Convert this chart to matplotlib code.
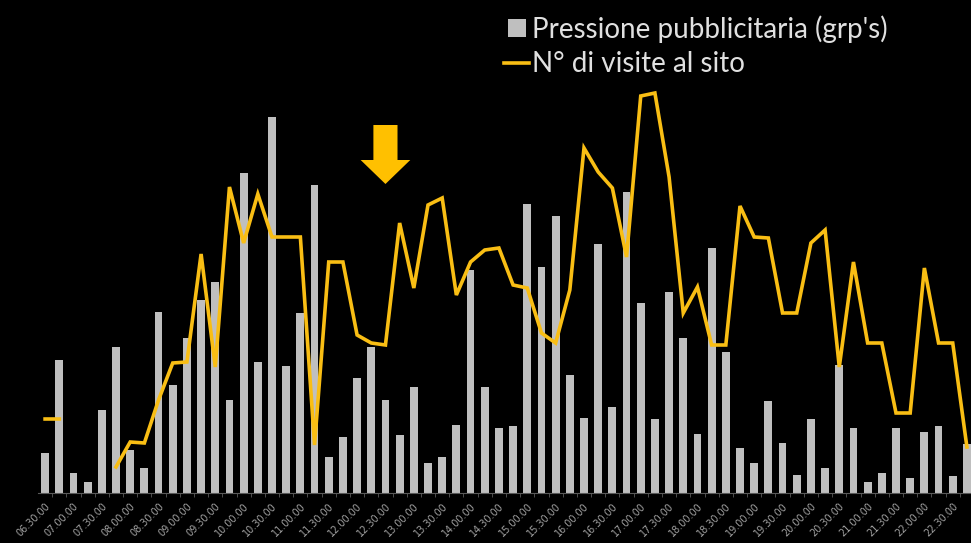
import numpy as np
import matplotlib
matplotlib.use("Agg")
from matplotlib import pyplot as plt
from matplotlib.patches import FancyArrow
from matplotlib.lines import Line2D

# fasce orarie da 15 minuti
orari = []
for i in range(66):
    minuti = 6 * 60 + 30 + 15 * i
    orari.append("%02d.%02d.00" % (minuti // 60, minuti % 60))

# pressione pubblicitaria (grp's) per fascia
grp = [4.0, 13.3, 2.0, 1.1, 8.3, 14.6, 4.3, 2.5, 18.1, 10.8, 15.5, 19.3, 21.1,
       9.3, 32.0, 13.1, 37.6, 12.7, 18.0, 30.8, 3.6,
       5.6, 11.5, 14.6, 9.3, 5.8, 10.6, 3.0, 3.6, 6.8, 22.3, 10.6, 6.5, 6.7,
       28.9, 22.6, 27.7, 11.8, 7.5, 24.9, 8.6, 30.1, 19.0,
       7.4, 20.1, 15.5, 5.9, 24.5, 14.1, 4.5, 3.0, 9.2, 5.0, 1.8, 7.4, 2.5,
       12.8, 6.5, 1.1, 2.0, 6.5, 1.5, 6.1, 6.7, 1.7, 4.9]

# numero di visite al sito
nan = np.nan
visite = [74, 74, nan, nan, nan, 26, 51, 50, 93, 130, 131, 239, 126,
          306, 250, 299, 256, 256, 256, 48, 231,
          231, 158, 150, 148, 270, 205, 288, 295, 198, 231, 243, 245, 208,
          205, 160, 150, 203, 345, 321, 305, 236, 397,
          400, 316, 180, 206, 148, 148, 287, 256, 255, 180, 180, 250, 263,
          126, 231, 150, 150, 80, 80, 225, 150, 150, 46]

fascia_evidenziata = 24

grigio = "#BFBFBF"
giallo = "#F9BE14"

fig = plt.figure(figsize=(9.71, 5.43), dpi=100, facecolor="black")
ax = fig.add_axes([38 / 971, 50 / 543, 936 / 971, 408 / 543])
ax.set_facecolor("black")

x = np.arange(len(grp))
ax.bar(x, grp, width=0.55, color=grigio, zorder=2)
ax.set_xlim(-0.5, len(grp) - 0.5)
ax.set_ylim(0, 40.8)

ax2 = ax.twinx()
ax2.plot(x, visite, color=giallo, lw=2.6, solid_joinstyle="miter", zorder=3)
ax2.set_ylim(0, 408)

# freccia sopra la fascia evidenziata
freccia = FancyArrow(fascia_evidenziata, 368, 0, -59, width=1.7,
                     head_width=3.5, head_length=24,
                     length_includes_head=True, color="#FFC000", lw=0)
ax2.add_patch(freccia)

for a in (ax, ax2):
    for s in a.spines.values():
        s.set_visible(False)
    a.set_yticks([])

ax.spines["bottom"].set_visible(True)
ax.spines["bottom"].set_color("#595959")
ax.set_xticks(x[::2])
ax.set_xticklabels(orari[::2], rotation=45, ha="right", rotation_mode="anchor",
                   fontsize=7, color="#A0A0A0")
ax.tick_params(axis="x", length=0, pad=6)
ax.set_xticks(x[:-1] + 0.5, minor=True)
ax.tick_params(axis="x", which="minor", length=3, color="#595959")

handles = [Line2D([], [], ls="none", marker="s", markersize=13,
                  color=grigio, markeredgewidth=0),
           Line2D([], [], color=giallo, lw=2.6)]
fig.legend(handles, ["Pressione pubblicitaria (grp's)", "N° di visite al sito"],
           loc="upper left", bbox_to_anchor=(504 / 971, 1 - 15 / 543),
           frameon=False, prop={"family": ["Lato", "DejaVu Sans"], "size": 20},
           labelcolor="#E0E0E0", handlelength=0.9,
           handletextpad=0.1, labelspacing=0.32, borderpad=0, borderaxespad=0)

fig.savefig("out.png", dpi=100, facecolor="black")
